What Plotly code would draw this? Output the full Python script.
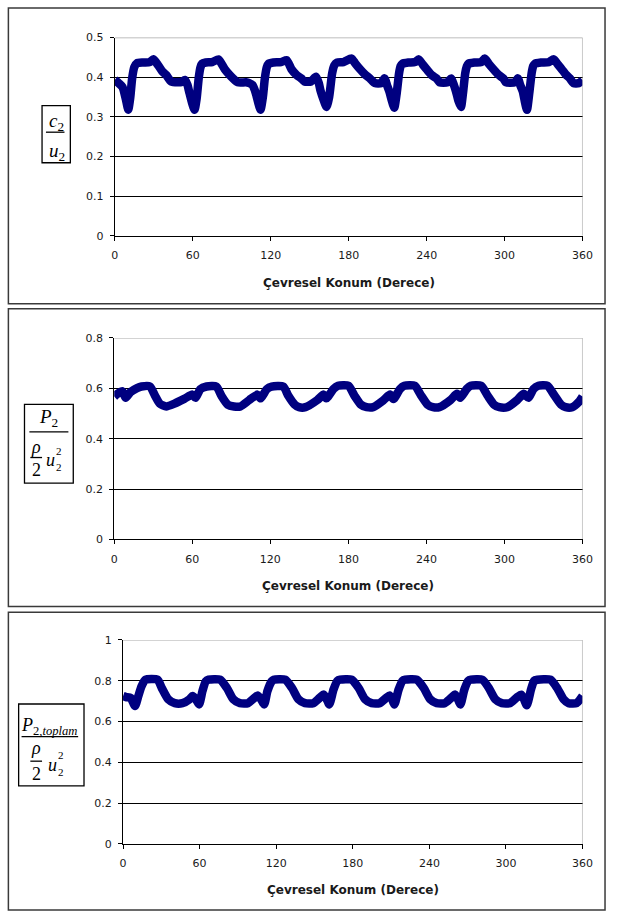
import plotly.graph_objects as go

# ---------------- data ----------------
deg_c2 = [0, 3, 6, 8.5, 10.4, 12, 13.4, 15, 17, 22, 27, 29.7, 33.4, 36.5, 39.7, 43.4, 49, 51.5, 53.9, 56,
          57.2, 59.5, 61.4, 63, 64.7, 66, 67.2, 70, 75, 79.7, 82, 84.7, 88, 91, 94.7, 101, 103.5, 106, 108.5,
          110.5, 112.2, 114, 115.5, 117, 118.3, 122, 128, 132.3, 136, 140, 143.5, 146, 151, 154.8, 157, 158.5,
          161, 163, 165, 167.3, 169, 171, 176, 182.2, 185, 188.8, 192.5, 196.3, 200.2, 205, 207.6, 209.5,
          211.3, 213.3, 215.1, 217, 218.8, 220, 221.3, 226, 231, 233.9, 237, 240, 244, 247.6, 250, 256, 258.9,
          261, 262.6, 264.5, 266.4, 268, 269.7, 271, 272.1, 277, 282, 284.7, 288, 291.4, 295, 299, 301, 308,
          310.2, 312, 314, 315.8, 317.2, 319, 320.8, 322, 323.3, 328, 334, 337.8, 341, 344, 347, 350.2, 353,
          357, 360]
val_c2 = [0.393, 0.385, 0.375, 0.345, 0.318, 0.35, 0.397, 0.425, 0.435, 0.437, 0.438, 0.445, 0.43, 0.415,
          0.405, 0.389, 0.387, 0.388, 0.393, 0.38, 0.364, 0.335, 0.318, 0.345, 0.40, 0.425, 0.434, 0.437,
          0.438, 0.445, 0.435, 0.42, 0.407, 0.397, 0.387, 0.387, 0.385, 0.38, 0.36, 0.335, 0.318, 0.35, 0.397,
          0.425, 0.434, 0.437, 0.438, 0.443, 0.42, 0.405, 0.397, 0.389, 0.389, 0.401, 0.385, 0.364, 0.34,
          0.325, 0.35, 0.41, 0.43, 0.437, 0.438, 0.447, 0.435, 0.42, 0.407, 0.397, 0.385, 0.385, 0.397, 0.38,
          0.364, 0.34, 0.323, 0.36, 0.41, 0.428, 0.434, 0.437, 0.438, 0.445, 0.432, 0.42, 0.405, 0.397, 0.387,
          0.387, 0.397, 0.38, 0.364, 0.34, 0.325, 0.36, 0.41, 0.428, 0.434, 0.437, 0.438, 0.447, 0.433, 0.42,
          0.407, 0.397, 0.387, 0.387, 0.397, 0.38, 0.364, 0.335, 0.318, 0.36, 0.41, 0.428, 0.434, 0.437,
          0.438, 0.445, 0.432, 0.42, 0.407, 0.397, 0.385, 0.385, 0.393]

deg_p2 = [0, 2.5, 6.2, 8.8, 12.5, 17.5, 21, 27.5, 31.3, 35, 40, 46.3, 53.8, 60, 62.5, 66.2, 71, 78.5, 82.3,
          87.3, 92, 97, 103.7, 110, 112.5, 117.3, 121, 130, 133.7, 138.7, 142, 147, 156, 161, 163, 168.5, 172,
          180, 184.6, 189.6, 194, 199, 207, 212, 214.6, 219.6, 223, 231, 235.9, 240.9, 245, 250, 258.4, 263.4,
          265.9, 270.9, 274, 282, 287, 292, 296, 302, 309.7, 314.6, 318.4, 322.2, 326, 333, 338.4, 343.4, 347,
          352, 357.5, 360]
val_p2 = [0.567, 0.578, 0.588, 0.562, 0.585, 0.601, 0.607, 0.607, 0.571, 0.539, 0.528, 0.539, 0.558, 0.575,
          0.562, 0.597, 0.607, 0.607, 0.571, 0.535, 0.528, 0.528, 0.553, 0.575, 0.56, 0.597, 0.607, 0.607,
          0.571, 0.535, 0.525, 0.525, 0.553, 0.575, 0.56, 0.597, 0.61, 0.61, 0.571, 0.535, 0.525, 0.525, 0.553,
          0.575, 0.557, 0.597, 0.61, 0.61, 0.571, 0.535, 0.525, 0.525, 0.553, 0.578, 0.562, 0.597, 0.61, 0.61,
          0.571, 0.535, 0.525, 0.525, 0.553, 0.578, 0.562, 0.597, 0.61, 0.61, 0.571, 0.535, 0.525, 0.525,
          0.548, 0.567]

deg_pt = [0, 2.3, 6, 9.4, 12, 14.5, 17.6, 27, 30.3, 35.4, 40.5, 46.6, 52, 54.5, 57, 59.6, 62.2, 64.8, 67, 76,
          81.3, 86.4, 91.5, 97.9, 103, 105.5, 108, 110.6, 113.1, 116.4, 118, 127, 132.3, 137.4, 142.5, 149,
          154, 157.3, 159.5, 161.6, 164.9, 168, 170, 179, 184.5, 189.6, 194.7, 201, 206.2, 208.8, 210.8, 212.6,
          215.9, 219, 221, 230, 235.5, 240.6, 245.7, 252, 257.1, 260.2, 262.3, 264.3, 267.4, 270.5, 272.5,
          281.5, 286.5, 291.6, 296.7, 303, 308.1, 311.9, 314, 316.3, 319.6, 322, 324.6, 334.8, 340, 345.1,
          349, 355.3, 360]
val_pt = [0.725, 0.72, 0.716, 0.676, 0.725, 0.773, 0.805, 0.805, 0.765, 0.709, 0.69, 0.69, 0.709, 0.725,
          0.71, 0.684, 0.749, 0.797, 0.805, 0.805, 0.765, 0.709, 0.69, 0.69, 0.716, 0.728, 0.71, 0.684, 0.749,
          0.797, 0.805, 0.805, 0.765, 0.709, 0.69, 0.69, 0.716, 0.732, 0.71, 0.684, 0.757, 0.8, 0.805, 0.805,
          0.765, 0.709, 0.69, 0.69, 0.716, 0.728, 0.71, 0.684, 0.757, 0.8, 0.805, 0.805, 0.765, 0.709, 0.69,
          0.69, 0.716, 0.732, 0.71, 0.684, 0.757, 0.8, 0.805, 0.805, 0.765, 0.709, 0.69, 0.69, 0.716, 0.732,
          0.71, 0.68, 0.757, 0.8, 0.805, 0.805, 0.765, 0.709, 0.69, 0.69, 0.725]

x_ticks = [0, 60, 120, 180, 240, 300, 360]
x_title = "Çevresel Konum (Derece)"

# ---------------- layout helpers ----------------
W, H = 617, 920
def px(x):
    return x / W
def py(y):
    return 1 - y / H

LINE_COLOR = "#000080"
SANS = "DejaVu Sans, Arial"
TICK_FONT = dict(family=SANS, size=11, color="#1a1a1a")

fig = go.Figure()

panels = [
    # (x data, y data, y max, y step, plot x0, plot x1, plot y_top, plot y_bottom, title y)
    (deg_c2, val_c2, 0.5, 0.1, 113.5, 593, 32, 233, 281),
    (deg_p2, val_p2, 0.8, 0.2, 113, 593, 336.7, 541, 588),
    (deg_pt, val_pt, 1.0, 0.2, 122, 593, 643, 850, 897),
]

shapes = []
annotations = []

for i, (xd, yd, ymax, ystep, x0, x1, yt, yb, ty) in enumerate(panels):
    n = "" if i == 0 else str(i + 1)
    fig.add_trace(go.Scatter(x=xd, y=yd, mode="lines",
                             line=dict(color=LINE_COLOR, width=8.5, shape="spline", smoothing=0.6),
                             xaxis="x" + n, yaxis="y" + n, showlegend=False,
                             hoverinfo="skip"))
    fig.update_layout(**{
        "xaxis" + n: dict(domain=[px(x0), px(x1)], anchor="y" + n, range=[0, 360],
                          tickvals=x_ticks, showgrid=False, zeroline=False,
                          showline=True, linecolor="black", linewidth=1,
                          ticks="outside", ticklen=4, tickcolor="black",
                          tickfont=TICK_FONT, ticklabelstandoff=5),
        "yaxis" + n: dict(domain=[py(yb), py(yt)], anchor="x" + n, range=[0, ymax],
                          dtick=ystep, tick0=0, showgrid=True, gridcolor="black", gridwidth=1,
                          zeroline=False, showline=True, linecolor="black", linewidth=1,
                          ticks="outside", ticklen=4, tickcolor="black",
                          tickfont=TICK_FONT, ticklabelstandoff=4),
    })
    # gray top / right plot border
    shapes.append(dict(type="line", xref="x" + n, yref="y" + n, x0=0, x1=360, y0=ymax, y1=ymax,
                       line=dict(color="#a8a8a8", width=1.2), layer="above"))
    shapes.append(dict(type="line", xref="x" + n, yref="y" + n, x0=360, x1=360, y0=0, y1=ymax,
                       line=dict(color="#a8a8a8", width=1.2), layer="above"))
    # x axis title
    annotations.append(dict(x=px((x0 + x1) / 2), y=py(ty), xref="paper", yref="paper",
                            text="<b>" + x_title + "</b>", showarrow=False,
                            xanchor="center", yanchor="middle",
                            font=dict(family=SANS, size=12, color="#1a1a1a")))

# outer panel frames
for (l, t, r, b) in [(4.5, 2, 616, 302), (4.5, 307, 616, 609), (4.5, 615, 616, 917)]:
    shapes.append(dict(type="rect", xref="paper", yref="paper", x0=px(l), x1=px(r), y0=py(b), y1=py(t),
                       line=dict(color="#3a3a3a", width=1.5), layer="below"))

# equation boxes
SERIF = "Liberation Serif, Times New Roman"
def txt(x, y, s, size):
    annotations.append(dict(x=px(x), y=py(y), xref="paper", yref="paper", text=s, showarrow=False,
                            xanchor="center", yanchor="middle", borderpad=0,
                            font=dict(family=SERIF, size=size, color="black")))
def bar(xa, xb, y, w=1.3):
    shapes.append(dict(type="line", xref="paper", yref="paper", x0=px(xa), x1=px(xb), y0=py(y), y1=py(y),
                       line=dict(color="black", width=w)))
def box(l, t, r, b):
    shapes.append(dict(type="rect", xref="paper", yref="paper", x0=px(l), x1=px(r), y0=py(b), y1=py(t),
                       line=dict(color="black", width=1.3)))

# box 1: c2/u2
box(39, 101, 68, 159)
txt(54, 118, "<i>c</i><sub>2</sub>", 19)
bar(43, 62, 128)
txt(54, 148, "<i>u</i><sub>2</sub>", 19)

# box 2: P2 / (rho/2 u2^2)
box(21, 404, 71, 484)
txt(46, 418, "<i>P</i><sub>2</sub>", 19)
bar(26, 66, 432)
txt(33, 447, "<i>ρ</i>", 18)
bar(27, 39, 458)
txt(33, 471, "2", 18)
txt(48, 461, "<i>u</i>", 18)
txt(56, 451, "2", 11)
txt(56, 468, "2", 11)

# box 3: P2,toplam / (rho/2 u2^2)
box(15, 708, 82, 791)
txt(46, 731, "<i>P</i><sub>2,<i>toplam</i></sub>", 18)
bar(18, 76, 741)
txt(33, 753, "<i>ρ</i>", 18)
bar(27, 39, 766)
txt(33, 779, "2", 18)
txt(50, 770, "<i>u</i>", 18)
txt(58, 760, "2", 11)
txt(58, 777, "2", 11)

fig.update_layout(autosize=True, margin=dict(l=0, r=0, t=0, b=0),
                  paper_bgcolor="white", plot_bgcolor="white",
                  shapes=shapes, annotations=annotations, showlegend=False)

fig.write_html(
    "out.html",
    default_width="100vw",
    default_height="100vh",
    config={"displayModeBar": False, "responsive": True},
    post_script=(
        "document.body.style.margin='0';"
        "document.documentElement.style.overflow='hidden';"
        "var d=document.getElementById('{plot_id}');"
        "d.style.position='fixed';d.style.left='0';d.style.top='0';"
        "Plotly.Plots.resize(d);"
    ),
)
